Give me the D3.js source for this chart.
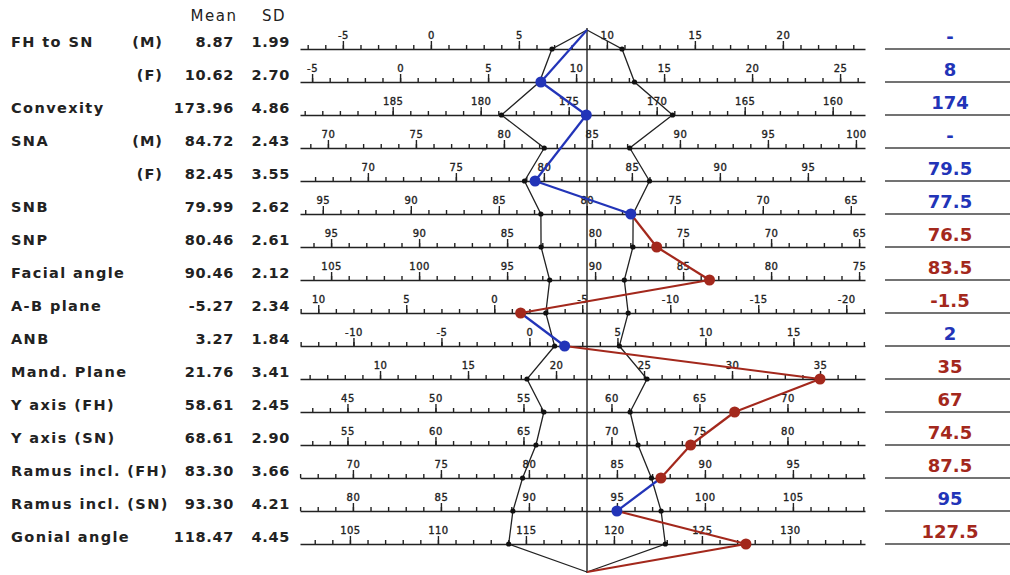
<!DOCTYPE html>
<html>
<head>
<meta charset="utf-8">
<script src="https://cdn.jsdelivr.net/npm/d3@7"></script>
<style>
  body { margin: 0; background: #fff; }
  .lbl { font-family: "DejaVu Sans", sans-serif; font-weight: bold; font-size: 14.5px; fill: #222; }
  .tick text { font-family: "DejaVu Sans", sans-serif; font-size: 10px; fill: #222; stroke: #222; stroke-width: 0.35px; letter-spacing: 0.5px; }
  .tick line, .domain { stroke: #222; }
</style>
</head>
<body>
<div id="vis"></div>
<script>

const FRAME_WIDTH = 1010;
const FRAME_HEIGHT = 575;

// norm table (Mean / SD), patient values
const labels = ["FH to SN", "", "Convexity", "SNA", "", "SNB", "SNP", "Facial angle", "A-B plane", "ANB",
                "Mand. Plane", "Y axis (FH)", "Y axis (SN)", "Ramus incl. (FH)", "Ramus incl. (SN)", "Gonial angle"];
const sexes = ["(M)", "(F)", "", "(M)", "(F)", "", "", "", "", "", "", "", "", "", "", ""];
const means = [8.87, 10.62, 173.96, 84.72, 82.45, 79.99, 80.46, 90.46, -5.27, 3.27, 21.76, 58.61, 68.61, 83.30, 93.30, 118.47];
const sds = [1.99, 2.70, 4.86, 2.43, 3.55, 2.62, 2.61, 2.12, 2.34, 1.84, 3.41, 2.45, 2.90, 3.66, 4.21, 4.45];
const patient = [null, 8, 174, null, 79.5, 77.5, 76.5, 83.5, -1.5, 2, 35, 67, 74.5, 87.5, 95, 127.5];
// 1 = scale grows to the right, -1 = reversed scale
const direction = [1, 1, -1, 1, 1, -1, -1, -1, -1, 1, 1, 1, 1, 1, 1, 1];

const BLUE = "#2234b8";
const RED = "#a3281c";

const CX = 587;            // centre line (mean)
const X0 = 300, X1 = 865;  // axis ends
const PX = 17.6;           // px per unit
const TOP_Y = 30, BOT_Y = 572;

const FRAME = d3.select("#vis")
                .append("svg")
                  .attr("width", FRAME_WIDTH)
                  .attr("height", FRAME_HEIGHT);

const rows = d3.range(labels.length);

const Y_SCALE = d3.scaleLinear()
                  .domain([0, rows.length - 1])
                  .range([49, 544]);

function xScale(i) {
  const left = (CX - X0) / PX, right = (X1 - CX) / PX;
  const dom = direction[i] > 0 ? [means[i] - left, means[i] + right]
                               : [means[i] + left, means[i] - right];
  return d3.scaleLinear().domain(dom).range([X0, X1]);
}
const X_SCALES = rows.map(xScale);

// header
FRAME.append("text").attr("x", 214).attr("y", 21).attr("text-anchor", "middle")
     .style("font-family", "DejaVu Sans").style("font-size", "15px").style("letter-spacing", "1.5px")
     .attr("fill", "#222").text("Mean");
FRAME.append("text").attr("x", 274).attr("y", 21).attr("text-anchor", "middle")
     .style("font-family", "DejaVu Sans").style("font-size", "15px").style("letter-spacing", "1.5px")
     .attr("fill", "#222").text("SD");

// left table
const fmt = d3.format(".2f");
rows.forEach(i => {
  const y = Y_SCALE(i) - 2;
  FRAME.append("text").attr("class", "lbl").attr("x", 11).attr("y", y)
       .style("letter-spacing", "1.4px").text(labels[i]);
  FRAME.append("text").attr("class", "lbl").attr("x", 163).attr("y", y)
       .attr("text-anchor", "end").style("letter-spacing", "1px").text(sexes[i]);
  FRAME.append("text").attr("class", "lbl").attr("x", 234).attr("y", y)
       .attr("text-anchor", "end").style("letter-spacing", "0.7px").text(fmt(means[i]).replace("\u2212", "-"));
  FRAME.append("text").attr("class", "lbl").attr("x", 290).attr("y", y)
       .attr("text-anchor", "end").style("letter-spacing", "0.7px").text(fmt(sds[i]));
});

// scales for each row
rows.forEach(i => {
  const x = X_SCALES[i];
  const [a, b] = d3.extent(x.domain());
  const minor = d3.range(Math.ceil(a), Math.floor(b) + 1);
  const major = minor.filter(v => v % 5 === 0 && x(v) > 306);
  const g = FRAME.append("g").attr("transform", "translate(0," + Y_SCALE(i) + ")");

  g.append("g")
   .call(d3.axisTop(x).tickValues(minor).tickSize(4).tickSizeOuter(0).tickFormat(""))
   .call(s => s.select(".domain").attr("stroke-width", 1.6))
   .call(s => s.selectAll(".tick line").attr("stroke-width", 1.4));

  g.append("g")
   .call(d3.axisTop(x).tickValues(major).tickSize(8).tickPadding(2).tickFormat(d => String(d)))
   .call(s => s.select(".domain").remove())
   .call(s => s.selectAll(".tick line").attr("stroke-width", 1.4));
});

// centre line
FRAME.append("line")
     .attr("x1", CX).attr("x2", CX).attr("y1", TOP_Y - 2).attr("y2", BOT_Y + 1)
     .attr("stroke", "#222").attr("stroke-width", 1.4);

// norm polygon, mean +/- 1 SD
const leftPts = rows.map(i => [d3.min([X_SCALES[i](means[i] - sds[i]), X_SCALES[i](means[i] + sds[i])]), Y_SCALE(i)]);
const rightPts = rows.map(i => [d3.max([X_SCALES[i](means[i] - sds[i]), X_SCALES[i](means[i] + sds[i])]), Y_SCALE(i)]);
const line = d3.line();

[leftPts, rightPts].forEach(pts => {
  FRAME.append("path")
       .attr("d", line([[CX, TOP_Y], ...pts, [CX, BOT_Y]]))
       .attr("fill", "none").attr("stroke", "#222").attr("stroke-width", 1.3);
  FRAME.selectAll(null).data(pts).enter().append("circle")
       .attr("cx", d => d[0]).attr("cy", d => d[1]).attr("r", 2.6).attr("fill", "#111");
});

// patient line
const pPts = rows.filter(i => patient[i] !== null).map(i => ({
  x: X_SCALES[i](patient[i]),
  y: Y_SCALE(i),
  out: Math.abs(patient[i] - means[i]) > sds[i]
}));
const seq = [{x: CX, y: TOP_Y, out: false}, ...pPts, {x: CX, y: BOT_Y, out: null}];
for (let k = 0; k < seq.length - 1; k++) {
  const a = seq[k], b = seq[k + 1];
  const out = b.out === null ? a.out : b.out;
  FRAME.append("line")
       .attr("x1", a.x).attr("y1", a.y).attr("x2", b.x).attr("y2", b.y)
       .attr("stroke", out ? RED : BLUE).attr("stroke-width", 2.2);
}
FRAME.selectAll("pts").data(pPts).enter().append("circle")
     .attr("cx", d => d.x).attr("cy", d => d.y).attr("r", 5.5)
     .attr("fill", d => d.out ? RED : BLUE);

// patient value column
rows.forEach(i => {
  const y = Y_SCALE(i);
  const out = patient[i] !== null && Math.abs(patient[i] - means[i]) > sds[i];
  FRAME.append("line").attr("x1", 885).attr("x2", FRAME_WIDTH).attr("y1", y).attr("y2", y)
       .attr("stroke", "#444").attr("stroke-width", 1.6);
  FRAME.append("text").attr("x", 950).attr("y", y - 6).attr("text-anchor", "middle")
       .style("font-family", "DejaVu Sans").style("font-weight", "bold").style("font-size", "18px")
       .attr("fill", out ? RED : BLUE)
       .text(patient[i] === null ? "-" : String(patient[i]));
});

</script>
</body>
</html>
